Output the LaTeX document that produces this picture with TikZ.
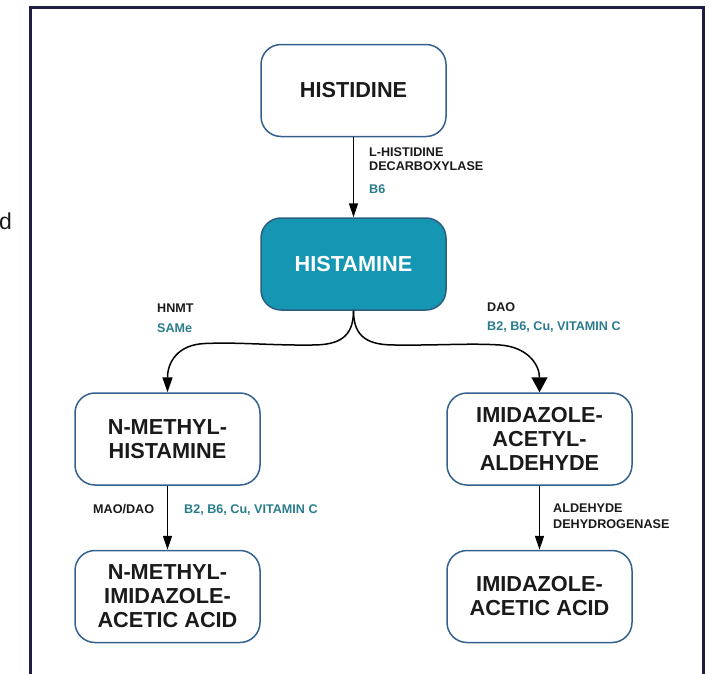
\documentclass[tikz,border=0pt]{standalone}
\usepackage{fontspec}
\setmainfont{Liberation Sans}
\usetikzlibrary{arrows.meta}

\definecolor{framecol}{HTML}{1E1E44}
\definecolor{boxline}{HTML}{33608F}
\definecolor{hfill}{HTML}{1597B4}
\definecolor{hline}{HTML}{2B5E80}
\definecolor{cofactor}{HTML}{2A7C8C}
\definecolor{ink}{HTML}{1A1A1A}

\tikzset{
  compound/.style={draw=boxline, line width=1.5pt, rounded corners=20pt,
    minimum width=185pt, minimum height=92pt, align=center, text=ink,
    font=\fontsize{21.7}{24}\selectfont\bfseries},
  enzyme/.style={inner sep=0pt, align=left, text=ink,
    font=\fontsize{12.6}{14.3}\selectfont\bfseries},
  cof/.style={enzyme, text=cofactor},
  flow/.style={line width=1.5pt, -{Triangle[length=14pt,width=9pt]}},
}

\begin{document}
\begin{tikzpicture}[x=1pt,y=-1pt]
\useasboundingbox (0,0) rectangle (712,673);

% outer frame
\draw[framecol, line width=3pt] (30,7) rectangle (703,700);

% stray letter at the left margin
\node[anchor=base east, inner sep=0pt, text=ink,
      font=\fontsize{23}{25}\selectfont] (frag) at (12,229) {d};

% compounds
\node[compound] (his) at (353.5,90.5) {HISTIDINE};
\node[compound, fill=hfill, draw=hline, text=white] (hsm) at (353.5,264) {HISTAMINE};
\node[compound] (nmh) at (167.5,439) {N-METHYL-\\HISTAMINE};
\node[compound] (iaa) at (539.5,439) {IMIDAZOLE-\\ACETYL-\\ALDEHYDE};
\node[compound] (nmia) at (167.5,596.5) {N-METHYL-\\IMIDAZOLE-\\ACETIC ACID};
\node[compound] (ima) at (539.5,596.5) {IMIDAZOLE-\\ACETIC ACID};

% reactions
\draw[flow] (his) -- (hsm);
\draw[flow] (nmh) -- (nmia);
\draw[flow] (iaa) -- (ima);
\draw[line width=1.5pt, -{Triangle[length=15pt,width=10pt]}]
  (hsm.south) .. controls (353.5,338) and (338,345) .. (312,345)
  .. controls (270,345.5) and (240,342) .. (205,343.5)
  .. controls (178,344.5) and (167.5,362) .. (nmh.north);
\draw[line width=1.5pt, -{Triangle[length=15pt,width=16pt]}]
  (hsm.south) .. controls (353.5,338) and (369,345) .. (395,345)
  .. controls (440,345.5) and (470,343) .. (500,345)
  .. controls (528,347) and (539.5,365) .. (iaa.north);

% enzymes and cofactors
\node[enzyme, anchor=north west] (ldc) at (369,147.5) {L-HISTIDINE\\DECARBOXYLASE};
\node[cof, anchor=north west] (b6) at (369,184.5) {B6};
\node[enzyme, anchor=north west] (hnmt) at (157,303.5) {HNMT};
\node[cof, anchor=north west] (same) at (157,323.5) {SAMe};
\node[enzyme, anchor=north west] (dao) at (487,302) {DAO};
\node[cof, anchor=north west] (daoc) at (487,321.5) {B2, B6, Cu, VITAMIN C};
\node[enzyme, anchor=north west] (mao) at (93,504.5) {MAO/DAO};
\node[cof, anchor=north west] (maoc) at (184,504.5) {B2, B6, Cu, VITAMIN C};
\node[enzyme, anchor=north west, font=\fontsize{12.6}{15.7}\selectfont\bfseries]
  (aldh) at (553,503.5) {ALDEHYDE\\DEHYDROGENASE};
\end{tikzpicture}
\end{document}
